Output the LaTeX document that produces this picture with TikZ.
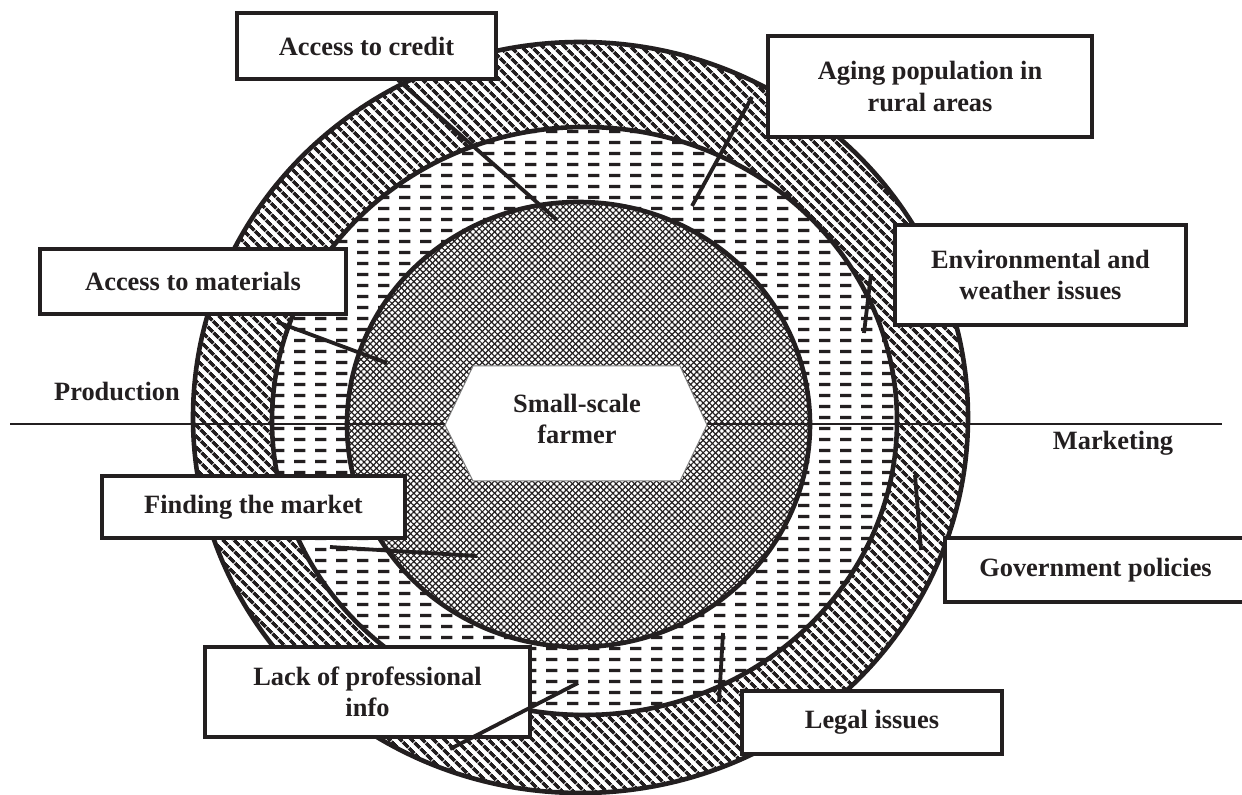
\documentclass[tikz,border=0pt]{standalone}
\usepackage{fontspec}
\setmainfont{Liberation Serif}
\usetikzlibrary{patterns,patterns.meta}
\usepackage{xcolor}
\definecolor{ink}{RGB}{35,31,32}
\pgfdeclarepatternformonly{hdashes}{\pgfqpoint{0pt}{0pt}}{\pgfqpoint{10.5pt}{5.4pt}}{\pgfqpoint{10.5pt}{5.4pt}}{%
	\pgfpathrectangle{\pgfqpoint{0pt}{2pt}}{\pgfqpoint{6pt}{1.6pt}}\pgfusepath{fill}}

\begin{document}
\begin{tikzpicture}[x=0.5pt, y=-0.5pt]
	% Define style for nodes
	\tikzstyle{every node}=[font=\bfseries\fontsize{13.2}{15.8}\selectfont, text=ink, align=center]
	\tikzstyle{box}=[draw=ink, fill=white, line width=2.2pt, inner sep=0pt]
	\tikzstyle{ring}=[draw=ink, line width=2.3pt, preaction={fill=white}, pattern color=ink]
	\tikzstyle{link}=[draw=ink, line width=1.9pt]
	
	\useasboundingbox (0,0) rectangle (1242,795);
	
	% rings
	\draw[ring, pattern={Lines[angle=-45,distance=4pt,line width=1.9pt]}]
	(580.5,417.5) ellipse [x radius=193.75pt, y radius=187.75pt];
	\draw[ring, pattern=hdashes]
	(584.5,421) ellipse [x radius=156.25pt, y radius=147pt];
	\draw[ring, pattern={Lines[angle=45,distance=2.2pt,line width=0.6pt]},
	postaction={pattern={Lines[angle=-45,distance=2.2pt,line width=0.6pt]}, pattern color=ink}]
	(578.5,424.5) ellipse [x radius=115.75pt, y radius=111.25pt];
	
	\coordinate (lineL) at (10,424);
	\coordinate (lineR) at (1222,424);
	\draw[ink, line width=1.2pt] (lineL) -- (lineR);
	
	% centre
	\draw[fill=white, draw=gray, line width=0.5pt]
	(445,425) -- (473,366) -- (680,366) -- (707,425) -- (680,481) -- (473,481) -- cycle;
	\node (farmer) at (577,419) {Small-scale\\farmer};
	
	\node (production) at (117,392) {Production};
	\node (marketing) at (1113,443) {Marketing};
	
	\node[box, minimum width=129.5pt, minimum height=33pt] (credit) at (366.5,46) {Access to credit};
	\node[box, minimum width=162pt, minimum height=50.5pt] (aging) at (930,86.5) {Aging population in\\rural areas};
	\node[box, minimum width=145.5pt, minimum height=50pt] (environ) at (1040.5,275) {Environmental and\\weather issues};
	\node[box, minimum width=153pt, minimum height=32.5pt] (materials) at (193,281.5) {Access to materials};
	\node[box, minimum width=151.5pt, minimum height=31pt] (market) at (253.5,507) {Finding the market};
	\node[box, minimum width=162.5pt, minimum height=45pt] (lack) at (367.5,692) {Lack of professional\\info};
	\node[box, minimum width=130pt, minimum height=31.5pt] (legal) at (872,722.5) {Legal issues};
	\node[box, minimum width=150.5pt, minimum height=32pt] (policies) at (1095.5,570) {Government policies};
	
	% connectors
	\coordinate (credit1) at (398,80);   \coordinate (credit2) at (557,220);
	\coordinate (aging1) at (752,97);    \coordinate (aging2) at (692,206);
	\coordinate (environ1) at (871,274); \coordinate (environ2) at (864,333);
	\coordinate (mat1) at (277,322);     \coordinate (mat2) at (387,363);
	\coordinate (market1) at (330,547);  \coordinate (market2) at (477,556);
	\coordinate (lack1) at (450,749);    \coordinate (lack2) at (578,683);
	\coordinate (legal1) at (723,633);   \coordinate (legal2) at (719,702);
	\coordinate (pol1) at (915,475);     \coordinate (pol2) at (921,550);
	
	\draw[link] (credit1) -- (credit2);
	\draw[link] (aging1) -- (aging2);
	\draw[link] (environ1) -- (environ2);
	\draw[link] (mat1) -- (mat2);
	\draw[link] (market1) -- (market2);
	\draw[link] (lack1) -- (lack2);
	\draw[link] (legal1) -- (legal2);
	\draw[link] (pol1) -- (pol2);
\end{tikzpicture}
\end{document}
